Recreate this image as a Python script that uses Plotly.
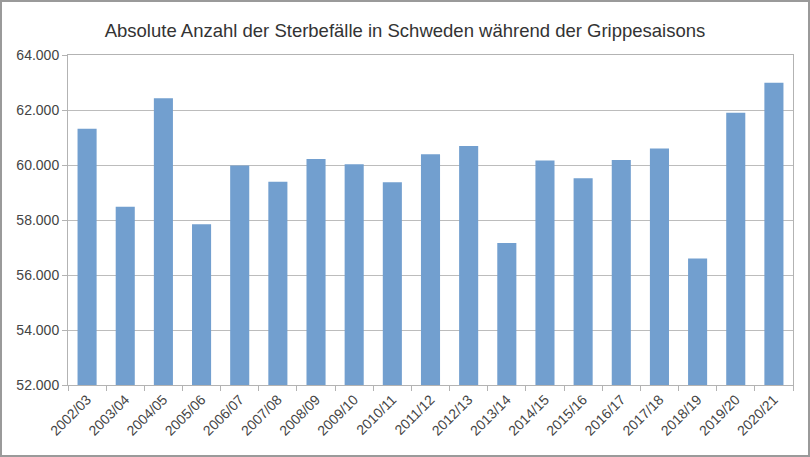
import plotly.graph_objects as go

seasons = ["2002/03", "2003/04", "2004/05", "2005/06", "2006/07", "2007/08", "2008/09",
           "2009/10", "2010/11", "2011/12", "2012/13", "2013/14", "2014/15", "2015/16",
           "2016/17", "2017/18", "2018/19", "2019/20", "2020/21"]
deaths = [61320, 58480, 62430, 57850, 59980, 59390, 60220,
          60030, 59370, 60390, 60690, 57160, 60160, 59520,
          60180, 60600, 56600, 61900, 62990]
y_ticks = [52000, 54000, 56000, 58000, 60000, 62000, 64000]

W, H = 810, 457
ml, mr, mt, mb = 68, 17, 55, 72
pw, ph = W - ml - mr, H - mt - mb

fig = go.Figure(go.Bar(
    x=seasons, y=deaths,
    marker=dict(color="#729fcf", line=dict(width=0)),
))

fig.update_layout(
    width=W, height=H,
    margin=dict(l=ml, r=mr, t=mt, b=mb, autoexpand=False),
    paper_bgcolor="white", plot_bgcolor="white",
    font=dict(family="Liberation Sans, Arial, sans-serif", size=14, color="#444444"),
    separators=",.",
    bargap=0.5,
    showlegend=False,
    title=dict(text="Absolute Anzahl der Sterbefälle in Schweden während der Grippesaisons",
               x=0.5, xanchor="center", y=1 - 31 / H, yanchor="middle",
               font=dict(size=18.5, color="#333333")),
    xaxis=dict(
        type="category", tickangle=-45, showgrid=False,
        showline=True, linecolor="#b3b3b3", linewidth=1, mirror=True,
        ticks="outside", ticklen=5, tickcolor="#b3b3b3", tickson="boundaries",
        tickfont=dict(size=14, color="#444444"),
    ),
    yaxis=dict(
        range=[52000, 64000], tickvals=y_ticks, tickformat=",d",
        showgrid=True, gridcolor="#bcbcbc", gridwidth=1,
        showline=True, linecolor="#b3b3b3", linewidth=1, mirror=True,
        ticks="outside", ticklen=5, tickcolor="#b3b3b3",
        zeroline=False, tickfont=dict(size=14, color="#444444"),
    ),
    shapes=[dict(type="rect", xref="paper", yref="paper",
                 x0=(-ml + 1) / pw, x1=1 + (mr - 1) / pw,
                 y0=(-mb + 1) / ph, y1=1 + (mt - 1) / ph,
                 line=dict(color="#9a9a9a", width=2), layer="below")],
)

fig.write_html("out.html", config={"displayModeBar": False},
               post_script="document.body.style.margin='0';document.body.style.overflow='hidden';")
